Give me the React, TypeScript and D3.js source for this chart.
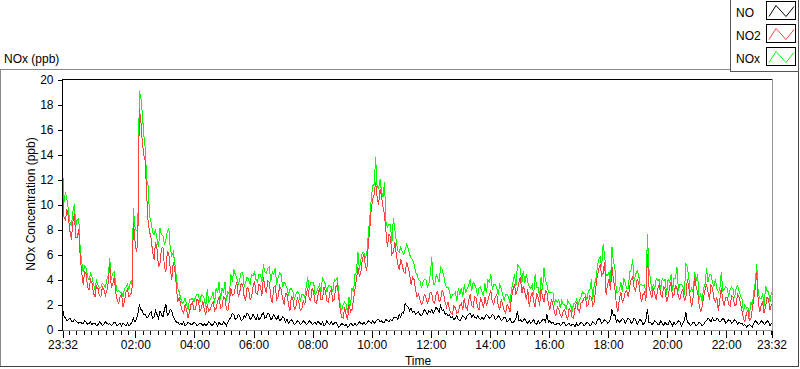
import * as d3 from "d3";
import { useEffect, useRef } from "react";

// 24 h record starting 23:32. Main arrays: readings every 6 min;
// *Half arrays: the readings 3 min after each of those.
const startTime = new Date(2020, 0, 1, 23, 32);
const endTime = new Date(2020, 0, 2, 23, 32);
const stepMinutes = 6;

const no = [
  1.7, 0.9, 0.8, 0.7, 0.8, 0.6, 0.6, 0.5, 0.6, 0.5, 0.4, 0.5, 0.4, 0.5, 0.4, 0.5, 0.5, 0.4, 0.5, 0.4, 0.3, 0.4, 0.5, 0.4,
  0.9, 0.8, 2.0, 1.5, 1.2, 1.0, 1.4, 1.0, 1.2, 1.5, 1.0, 2.0, 1.3, 1.5, 0.8, 0.6, 0.5, 0.6, 0.4, 0.5, 0.4, 0.5, 0.4, 0.5,
  0.5, 0.4, 0.5, 0.4, 0.5, 0.6, 0.4, 0.5, 0.6, 1.0, 1.2, 0.9, 1.1, 0.8, 1.0, 1.2, 0.9, 1.0, 1.1, 0.9, 1.3, 1.0, 1.2, 0.9,
  1.0, 1.1, 0.8, 0.9, 0.8, 0.7, 0.6, 0.5, 0.6, 0.5, 0.6, 0.5, 0.6, 0.5, 0.4, 0.5, 0.6, 0.4, 0.5, 0.6, 0.5, 0.4, 0.3, 0.4,
  0.4, 0.3, 0.4, 0.5, 0.4, 0.5, 0.6, 0.5, 0.6, 0.7, 0.6, 0.8, 0.7, 0.6, 0.7, 0.8, 0.9, 1.0, 1.2, 1.4, 2.1, 1.8, 1.7, 1.5,
  1.3, 1.2, 1.3, 1.4, 1.5, 1.6, 1.5, 1.6, 1.9, 1.6, 1.3, 1.2, 1.0, 0.9, 0.8, 0.9, 1.0, 1.1, 1.3, 1.2, 0.9, 0.9, 1.0, 1.0,
  1.1, 1.0, 1.1, 0.9, 1.0, 0.8, 0.9, 0.7, 0.6, 0.7, 1.5, 0.8, 0.7, 0.6, 0.7, 0.6, 0.5, 0.7, 0.6, 0.8, 1.2, 0.7, 0.6, 0.4,
  0.5, 0.4, 0.5, 0.4, 0.3, 0.4, 0.5, 0.4, 0.5, 0.4, 0.5, 0.4, 0.5, 0.7, 0.8, 0.6, 0.7, 0.6, 1.6, 1.2, 0.8, 0.7, 0.8, 0.7,
  0.8, 0.6, 0.8, 0.6, 0.7, 0.5, 1.6, 0.6, 0.5, 0.6, 0.4, 0.5, 0.6, 0.4, 0.5, 0.6, 0.5, 0.6, 0.5, 1.4, 0.5, 0.4, 0.5, 0.4,
  0.5, 0.4, 0.7, 0.8, 0.9, 0.7, 0.8, 0.7, 0.8, 0.6, 0.7, 0.6, 0.7, 0.6, 0.5, 0.4, 0.3, 0.3, 0.5, 0.6, 0.5, 0.6, 0.5, 0.6,
  0.5,
];
const noHalf = [
  1.1, 0.7, 0.9, 0.6, 0.7, 0.5, 0.5, 0.7, 0.4, 0.6, 0.5, 0.3, 0.6, 0.3, 0.6, 0.4, 0.3, 0.6, 0.3, 0.5, 0.5, 0.3, 0.3, 0.6,
  0.6, 1.2, 1.6, 1.2, 1.0, 1.3, 0.9, 1.5, 0.9, 1.2, 1.6, 1.1, 1.6, 1.0, 0.6, 0.4, 0.4, 0.3, 0.6, 0.4, 0.6, 0.3, 0.5, 0.3,
  0.3, 0.6, 0.3, 0.6, 0.3, 0.4, 0.6, 0.3, 0.8, 1.3, 0.8, 1.2, 0.7, 1.1, 1.3, 0.8, 1.2, 0.8, 0.8, 1.2, 0.9, 1.3, 0.8, 1.2,
  0.8, 0.7, 1.0, 0.6, 0.5, 0.8, 0.4, 0.7, 0.4, 0.7, 0.4, 0.7, 0.4, 0.6, 0.7, 0.4, 0.3, 0.7, 0.4, 0.4, 0.6, 0.2, 0.5, 0.3,
  0.2, 0.5, 0.3, 0.3, 0.6, 0.4, 0.4, 0.7, 0.5, 0.5, 0.8, 0.6, 0.5, 0.8, 0.6, 0.7, 1.0, 0.8, 1.0, 1.3, 1.9, 1.5, 1.4, 1.2,
  1.4, 1.1, 1.6, 1.2, 1.4, 1.3, 1.8, 1.4, 1.5, 1.2, 1.1, 0.9, 0.8, 1.1, 0.7, 1.1, 0.8, 1.2, 1.0, 1.0, 1.1, 0.8, 0.8, 1.2,
  0.9, 1.2, 0.8, 1.1, 0.7, 1.0, 0.6, 0.9, 0.5, 0.9, 0.7, 0.6, 0.9, 0.5, 0.5, 0.8, 0.4, 0.5, 0.8, 0.6, 0.6, 0.5, 0.4, 0.5,
  0.3, 0.6, 0.3, 0.5, 0.4, 0.2, 0.3, 0.6, 0.3, 0.6, 0.3, 0.6, 0.4, 0.9, 0.5, 0.8, 0.5, 0.8, 1.1, 0.6, 0.6, 0.9, 0.5, 0.9,
  0.5, 0.9, 0.4, 0.8, 0.4, 0.8, 0.6, 0.4, 0.7, 0.4, 0.7, 0.3, 0.4, 0.7, 0.3, 0.4, 0.7, 0.3, 0.7, 0.6, 0.3, 0.6, 0.3, 0.6,
  0.3, 0.6, 0.9, 0.6, 0.7, 0.9, 0.6, 0.9, 0.5, 0.8, 0.5, 0.8, 0.4, 0.5, 0.3, 0.2, 0.4, 0.2, 0.7, 0.4, 0.7, 0.4, 0.7, 0.3,
];

const no2 = [
  11.2, 8.8, 9.0, 7.2, 9.2, 7.4, 5.8, 3.6, 4.4, 3.2, 3.7, 2.6, 3.3, 2.6, 3.2, 3.1, 5.2, 3.6, 3.0, 2.1, 2.8, 2.3, 3.2, 2.8,
  8.6, 6.2, 17.6, 15.0, 13.5, 8.5, 7.3, 5.6, 6.4, 5.3, 6.6, 4.6, 6.0, 4.0, 4.8, 2.2, 2.0, 1.3, 1.6, 1.4, 2.2, 1.6, 2.3, 1.7,
  1.6, 2.0, 1.6, 2.2, 1.7, 2.6, 1.8, 2.5, 1.5, 3.3, 2.8, 3.8, 3.0, 3.6, 2.3, 3.2, 2.6, 3.9, 2.8, 3.5, 4.2, 2.9, 3.8, 2.1,
  3.5, 2.6, 3.2, 2.0, 2.8, 1.5, 2.4, 1.8, 2.2, 1.6, 2.0, 3.3, 2.3, 3.0, 2.1, 3.3, 2.4, 3.1, 2.2, 3.2, 2.4, 3.6, 1.6, 0.9,
  1.2, 2.0, 1.6, 3.2, 5.0, 4.6, 6.0, 4.7, 8.0, 10.4, 11.8, 10.0, 10.6, 9.2, 6.6, 7.4, 6.2, 6.0, 4.8, 5.2, 4.5, 5.0, 3.6, 4.0,
  2.6, 2.4, 2.2, 2.6, 2.4, 2.9, 2.1, 3.0, 2.4, 2.9, 1.8, 1.6, 1.2, 1.7, 1.4, 2.1, 2.5, 1.6, 2.8, 1.8, 2.5, 1.6, 2.2, 2.6,
  2.3, 3.1, 2.0, 2.8, 1.6, 2.0, 1.3, 1.8, 2.6, 3.6, 3.2, 4.2, 3.5, 2.4, 1.8, 3.0, 1.8, 2.6, 3.2, 2.2, 2.9, 1.6, 2.0, 1.1,
  1.6, 1.0, 1.6, 0.8, 1.5, 0.9, 2.2, 1.4, 2.2, 2.6, 2.0, 2.6, 2.2, 4.2, 5.2, 4.5, 2.8, 4.0, 5.0, 3.2, 1.4, 3.0, 2.4, 3.1,
  3.4, 4.2, 3.1, 3.8, 2.2, 3.0, 6.0, 3.0, 3.3, 2.4, 3.6, 2.6, 3.2, 2.6, 3.8, 2.8, 3.3, 2.4, 3.2, 2.5, 3.4, 1.8, 4.2, 3.0,
  1.4, 2.6, 3.6, 2.4, 3.3, 2.2, 1.5, 3.3, 1.9, 2.6, 1.9, 2.6, 2.0, 2.6, 1.5, 0.6, 1.5, 0.8, 2.5, 4.6, 1.4, 2.2, 1.8, 2.4,
  2.0,
];
const no2Half = [
  9.0, 9.6, 7.9, 8.6, 7.4, 8.0, 4.6, 4.6, 3.4, 4.0, 2.9, 3.5, 2.7, 3.4, 2.7, 3.8, 3.4, 4.2, 2.4, 2.6, 1.8, 3.0, 2.6, 3.0,
  7.2, 7.0, 16.8, 14.0, 10.8, 7.8, 6.2, 7.0, 5.0, 6.5, 5.0, 6.3, 4.8, 5.4, 3.6, 2.6, 1.5, 2.0, 0.9, 2.0, 1.6, 2.4, 1.5, 2.3,
  1.2, 1.5, 2.0, 1.5, 2.3, 1.7, 2.6, 1.6, 2.3, 2.7, 3.4, 2.6, 3.7, 2.6, 3.4, 2.4, 3.4, 2.9, 3.6, 2.7, 3.4, 3.9, 2.6, 3.4,
  2.4, 3.5, 2.5, 2.9, 2.0, 2.7, 1.6, 2.5, 1.5, 2.3, 2.8, 2.5, 3.3, 2.2, 2.8, 2.4, 3.4, 2.3, 3.0, 2.3, 3.4, 2.6, 1.0, 1.8,
  0.8, 1.4, 2.4, 4.0, 4.2, 5.6, 5.2, 6.8, 9.6, 10.8, 10.6, 11.2, 9.8, 7.8, 7.6, 6.0, 7.0, 5.2, 5.6, 4.6, 5.4, 4.4, 4.2, 3.2,
  2.8, 2.0, 2.8, 2.1, 3.0, 2.2, 2.9, 2.2, 3.1, 2.2, 2.2, 1.3, 1.9, 1.3, 1.9, 1.6, 1.8, 2.3, 1.9, 2.6, 1.8, 2.5, 1.7, 1.9,
  2.8, 2.2, 2.6, 1.9, 2.4, 1.5, 2.0, 1.4, 3.2, 2.8, 3.8, 2.9, 3.0, 3.2, 2.6, 2.2, 2.9, 1.9, 2.6, 3.1, 2.0, 2.4, 1.4, 1.8,
  1.2, 1.5, 1.1, 1.7, 1.0, 1.7, 1.6, 2.1, 2.5, 1.9, 2.7, 1.9, 3.3, 4.8, 4.3, 5.4, 3.6, 3.2, 4.0, 2.0, 2.4, 2.2, 3.0, 2.6,
  4.0, 3.3, 4.0, 3.0, 2.8, 2.3, 3.4, 2.5, 2.8, 3.3, 2.8, 3.4, 2.2, 3.4, 2.6, 3.5, 2.6, 3.0, 2.3, 4.0, 2.5, 2.6, 3.4, 2.0,
  1.8, 3.2, 3.0, 3.6, 2.5, 2.6, 2.4, 2.4, 2.6, 2.0, 2.7, 1.9, 2.8, 2.1, 0.9, 1.3, 0.7, 1.6, 3.3, 2.3, 1.9, 1.3, 2.6, 1.6,
];

const nox = [
  13.2, 11.0, 9.6, 8.3, 10.0, 8.8, 6.4, 4.6, 4.9, 4.0, 4.2, 3.2, 3.6, 3.4, 3.6, 4.0, 5.7, 4.5, 3.7, 3.1, 3.0, 3.3, 3.6, 3.8,
  9.7, 7.9, 19.1, 17.4, 14.5, 11.5, 8.6, 7.6, 7.2, 8.1, 7.5, 7.2, 8.1, 5.9, 5.3, 3.3, 2.5, 2.2, 2.0, 2.4, 2.5, 2.6, 2.8, 2.8,
  2.5, 3.2, 2.4, 3.0, 3.3, 3.8, 3.3, 3.8, 3.0, 4.4, 4.8, 4.1, 4.0, 4.6, 3.8, 4.0, 4.4, 4.6, 3.8, 4.4, 5.2, 4.5, 5.0, 4.6,
  4.9, 4.2, 4.4, 3.8, 3.3, 3.2, 3.0, 2.8, 2.9, 2.8, 2.6, 4.2, 3.8, 3.8, 3.0, 3.6, 4.1, 3.6, 3.5, 3.4, 4.0, 4.1, 2.0, 2.0,
  2.0, 2.6, 3.3, 4.4, 6.2, 5.6, 6.2, 6.0, 8.9, 11.5, 13.8, 11.3, 11.0, 11.8, 8.2, 8.4, 8.9, 7.0, 6.2, 6.2, 6.4, 6.5, 5.7, 5.2,
  4.4, 3.9, 3.8, 4.0, 3.6, 5.8, 3.6, 4.1, 5.0, 4.4, 3.4, 3.0, 2.8, 3.0, 3.3, 3.3, 3.6, 3.3, 4.0, 3.8, 3.3, 3.3, 3.0, 3.7,
  4.0, 4.4, 3.6, 3.3, 3.6, 2.8, 2.8, 2.6, 3.2, 4.4, 5.2, 4.9, 4.7, 4.4, 3.4, 3.6, 4.4, 3.4, 4.2, 4.9, 3.6, 3.0, 3.0, 2.4,
  2.4, 2.3, 2.0, 2.3, 2.0, 2.1, 2.4, 2.3, 3.0, 2.8, 3.1, 4.0, 3.6, 4.9, 5.8, 6.8, 4.4, 4.6, 6.6, 4.9, 3.0, 3.8, 4.1, 3.3,
  4.6, 5.6, 4.4, 4.4, 3.6, 3.6, 7.6, 4.1, 3.6, 4.1, 4.0, 4.1, 4.0, 4.0, 4.4, 4.1, 5.0, 3.6, 3.5, 5.3, 4.1, 3.3, 4.6, 4.4,
  2.8, 3.3, 4.9, 4.4, 3.8, 4.0, 3.0, 4.6, 3.2, 3.3, 3.2, 3.2, 3.3, 3.1, 2.5, 2.0, 1.8, 2.2, 3.0, 5.2, 2.5, 2.8, 3.5, 3.0,
  3.0,
];
const noxHalf = [
  10.2, 10.4, 8.6, 9.4, 8.3, 8.9, 5.4, 5.1, 4.2, 4.5, 3.6, 3.9, 3.3, 3.7, 3.4, 4.3, 4.0, 4.6, 3.0, 3.0, 2.6, 3.4, 3.2, 3.6,
  8.2, 8.0, 18.6, 15.6, 12.0, 9.0, 7.8, 8.0, 6.6, 7.6, 6.8, 7.9, 6.4, 6.2, 4.3, 3.0, 2.1, 2.5, 1.6, 2.4, 2.2, 2.8, 2.1, 2.7,
  1.8, 2.2, 2.6, 2.1, 2.9, 2.4, 3.0, 2.3, 2.8, 3.8, 4.4, 3.6, 4.6, 3.4, 4.2, 3.6, 4.3, 4.0, 4.4, 3.8, 4.6, 4.9, 3.8, 4.4,
  3.6, 4.5, 3.4, 3.6, 2.8, 3.3, 2.4, 3.0, 2.2, 2.8, 3.4, 3.2, 3.8, 2.8, 3.3, 3.0, 3.9, 3.0, 3.5, 3.0, 3.9, 3.0, 1.5, 2.2,
  1.3, 1.9, 3.0, 4.6, 4.8, 6.2, 5.8, 7.6, 10.4, 11.6, 11.4, 12.0, 10.6, 8.6, 8.4, 6.9, 8.0, 6.3, 6.6, 6.0, 6.8, 6.0, 5.6, 4.6,
  4.0, 3.3, 4.0, 3.4, 4.4, 3.6, 4.4, 3.8, 4.8, 3.7, 3.4, 2.5, 2.8, 2.3, 2.8, 2.6, 2.9, 3.5, 3.1, 3.6, 2.7, 3.4, 2.7, 2.9,
  3.8, 3.2, 3.6, 2.8, 3.3, 2.3, 2.8, 2.1, 3.8, 3.5, 5.0, 3.7, 3.7, 3.8, 3.3, 2.8, 3.4, 2.6, 3.2, 3.9, 3.0, 3.0, 2.0, 2.2,
  1.7, 2.0, 1.6, 2.1, 1.4, 2.1, 2.0, 2.6, 2.9, 2.4, 3.1, 2.4, 3.9, 5.6, 5.0, 6.0, 4.3, 3.8, 5.4, 3.0, 3.1, 3.0, 3.7, 3.3,
  4.8, 3.9, 4.7, 3.6, 3.5, 2.9, 4.8, 3.1, 3.3, 3.9, 3.2, 3.9, 2.8, 3.8, 3.1, 4.1, 3.1, 3.6, 2.8, 5.0, 3.0, 3.0, 3.9, 2.4,
  2.3, 3.6, 3.8, 4.4, 3.4, 3.3, 3.2, 3.1, 3.4, 2.6, 3.4, 2.5, 3.5, 2.7, 1.4, 1.7, 1.0, 1.9, 3.8, 2.9, 2.5, 1.9, 3.1, 2.2,
];

const yTicks = [0, 2, 4, 6, 8, 10, 12, 14, 16, 18, 20];
const labelHours = [2, 4, 6, 8, 10, 12, 14, 16, 18, 20, 22];
const legendNames = ["NO", "NO2", "NOx"];
const seriesColors = ["#000000", "#ff4040", "#00ff00"];

const font = "'Liberation Sans', Arial, sans-serif";

const App = () => {
  const ref = useRef<SVGSVGElement>(null);

  useEffect(() => {
    document.body.style.margin = "0";
    const svg = d3.select(ref.current);
    svg.selectAll("*").remove();

    const x = d3.scaleTime().domain([startTime, endTime]).range([62.5, 771.5]);
    const y = d3.scaleLinear().domain([0, 20]).range([329.5, 79.5]);
    const t = (i: number) => d3.timeMinute.offset(startTime, i * stepMinutes);
    const tHalf = (i: number) => d3.timeMinute.offset(startTime, i * stepMinutes + stepMinutes / 2);

    // put each series' 6-min and half-step readings in time order
    const merge = (main: number[], half: number[]): [Date, number][] =>
      main.flatMap((v, i): [Date, number][] =>
        i < half.length ? [[t(i), v], [tHalf(i), half[i]]] : [[t(i), v]]);

    // outer frame
    svg.append("line").attr("x1", 0).attr("x2", 731).attr("y1", 69.5).attr("y2", 69.5).attr("stroke", "#8a8a8a");
    svg.append("line").attr("x1", 0.5).attr("x2", 0.5).attr("y1", 69).attr("y2", 367).attr("stroke", "#8a8a8a");
    svg.append("line").attr("x1", 0).attr("x2", 799).attr("y1", 366.5).attr("y2", 366.5).attr("stroke", "#444");
    svg.append("line").attr("x1", 798.5).attr("x2", 798.5).attr("y1", 72).attr("y2", 367).attr("stroke", "#444");

    svg.append("text").attr("x", 4).attr("y", 63).attr("font-family", font).attr("font-size", 12).text("NOx (ppb)");

    svg.append("rect").attr("x", 62.5).attr("y", 79.5).attr("width", 709).attr("height", 251).attr("fill", "#fff");

    const plot = svg.append("g");
    const series = [merge(nox, noxHalf), merge(no2, no2Half), merge(no, noHalf)];
    const colors = [seriesColors[2], seriesColors[1], seriesColors[0]];
    const line = d3.line<[Date, number]>().x(d => x(d[0])).y(d => y(d[1]));
    series.forEach((pts, k) => {
      plot.append("path").datum(pts)
        .attr("d", line)
        .attr("fill", "none")
        .attr("stroke", colors[k])
        .attr("stroke-width", 1)
        .attr("shape-rendering", "crispEdges");
    });

    // plot borders
    svg.append("line").attr("x1", 62).attr("x2", 773).attr("y1", 79.5).attr("y2", 79.5).attr("stroke", "#000");
    svg.append("line").attr("x1", 62.5).attr("x2", 62.5).attr("y1", 79).attr("y2", 331).attr("stroke", "#000");
    svg.append("line").attr("x1", 772.5).attr("x2", 772.5).attr("y1", 79).attr("y2", 331).attr("stroke", "#999");
    svg.append("line").attr("x1", 62).attr("x2", 773).attr("y1", 330.5).attr("y2", 330.5).attr("stroke", "#999");

    // y axis
    const yAxis = svg.append("g").attr("transform", "translate(62.5,0)")
      .call(d3.axisLeft(y).tickValues(yTicks).tickSize(5).tickPadding(4));
    yAxis.select(".domain").remove();
    yAxis.selectAll("text").attr("font-family", font).attr("font-size", 12).attr("fill", "#000");

    // x axis: minor ticks every 15 min, labels every 2 h plus both ends
    const minor = d3.timeMinute.every(15)!.range(startTime, endTime);
    const majorTimes = [startTime, ...labelHours.map(h => new Date(2020, 0, 2, h, 0)), endTime];
    const xMinor = svg.append("g").attr("transform", "translate(0,330.5)")
      .call(d3.axisBottom(x).tickValues(minor).tickSize(4).tickFormat(() => ""));
    xMinor.select(".domain").remove();
    const xMajor = svg.append("g").attr("transform", "translate(0,330.5)")
      .call(d3.axisBottom(x).tickValues(majorTimes).tickSize(7).tickPadding(3)
        .tickFormat(d => d3.timeFormat("%H:%M")(d as Date)));
    xMajor.select(".domain").remove();
    xMajor.selectAll("text").attr("font-family", font).attr("font-size", 12).attr("fill", "#000");
    svg.selectAll(".tick line").attr("shape-rendering", "crispEdges");

    svg.append("text").attr("x", 418).attr("y", 365).attr("text-anchor", "middle")
      .attr("font-family", font).attr("font-size", 12).text("Time");
    svg.append("text").attr("transform", "translate(35,204) rotate(-90)").attr("text-anchor", "middle")
      .attr("font-family", font).attr("font-size", 12).text("NOx Concentration (ppb)");

    // legend
    const legend = svg.append("g");
    legend.append("rect").attr("x", 730.5).attr("y", -0.5).attr("width", 68).attr("height", 72)
      .attr("fill", "#fff").attr("stroke", "#555");
    legendNames.forEach((name, k) => {
      const top = 1.5 + k * 23;
      legend.append("text").attr("x", 736).attr("y", top + 15).attr("font-family", font).attr("font-size", 12).text(name);
      legend.append("rect").attr("x", 766.5).attr("y", top).attr("width", 29).attr("height", 18)
        .attr("fill", "#fff").attr("stroke", "#000");
      const pts: [number, number][] = [[769, top + 15], [776, top + 4], [786, top + 15], [794, top + 5]];
      legend.append("path").attr("d", d3.line()(pts)).attr("fill", "none").attr("stroke", seriesColors[k]);
    });
  }, []);

  return <svg ref={ref} width={800} height={369} style={{ display: "block" }} />;
};

export default App;
